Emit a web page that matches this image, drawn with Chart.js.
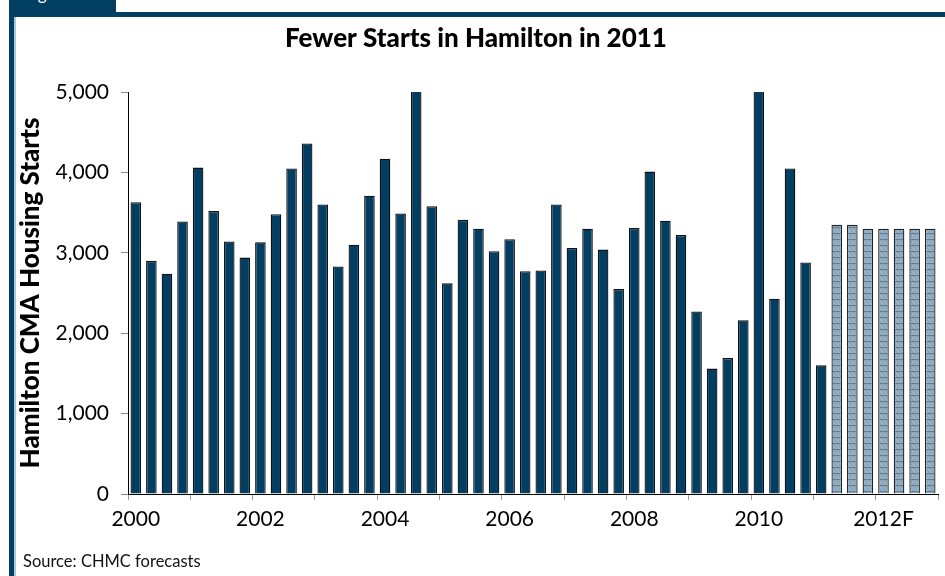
<!DOCTYPE html>
<html><head><meta charset="utf-8">
<script src="https://cdn.jsdelivr.net/npm/chart.js@4.4.0/dist/chart.umd.min.js"></script>
<style>
html,body{margin:0;padding:0;background:#fff;}
#wrap{position:relative;width:945px;height:576px;overflow:hidden;font-family:Lato,'DejaVu Sans',sans-serif;}
#tab{position:absolute;left:9px;top:0;width:107px;height:13px;background:#033e63;overflow:hidden;}
#tab span{position:absolute;left:15px;top:-17px;color:#fff;font-size:17px;}
#hbar{position:absolute;left:9px;top:12px;width:936px;height:5px;background:#033e63;}
#vbar{position:absolute;left:9px;top:12px;width:5px;height:564px;background:#033e63;}
#vline{position:absolute;left:14px;top:17px;width:2px;height:559px;background:#a9c8dc;}
#source{position:absolute;left:23px;top:551px;font-size:16.5px;color:#111;}
canvas{position:absolute;left:0;top:0;}
</style></head>
<body>
<div id="wrap">
<div id="tab"><span>Figure</span></div>
<div id="hbar"></div>
<div id="vbar"></div>
<div id="vline"></div>
<canvas id="c" width="945" height="576"></canvas>
<div id="source">Source: CHMC forecasts</div>
</div>
<script>
// ---- data ----
const years = ['2000','2001','2002','2003','2004','2005','2006','2007','2008','2009','2010','2011','2012'];
const quarters = ['Q1','Q2','Q3','Q4'];
const categories = years.flatMap(y => quarters.map(q => y + ' ' + q));
const yearLabels = ['2000','2002','2004','2006','2008','2010','2012F'];
const actual = [3630,2900,2740,3390, 4060,3520,3140,2940, 3130,3480,4050,4360,
                3600,2830,3100,3710, 4170,3490,5200,3580, 2620,3410,3300,3020,
                3170,2770,2780,3600, 3060,3300,3040,2550, 3310,4010,3400,3220,
                2270,1560,1690,2160, 5200,2430,4050,2880, 1600];
const forecast = [3350,3350,3300,3300,3300,3300,3300];
const yTicks = [0,1000,2000,3000,4000,5000];

const actualData = categories.map((c,i) => i < actual.length ? actual[i] : null);
const forecastData = categories.map((c,i) => i >= actual.length ? forecast[i - actual.length] : null);

function makePattern(){
  const c = document.createElement('canvas'); c.width = 4; c.height = 6;
  const g = c.getContext('2d');
  g.fillStyle = '#8ea9bd'; g.fillRect(0,0,4,6);
  g.fillStyle = '#a3bacb'; g.fillRect(0,1,1,1); g.fillRect(2,3,1,1); g.fillRect(1,2,1,1); g.fillRect(3,4,1,1);
  g.fillStyle = '#7f9cb2'; g.fillRect(1,0,1,1); g.fillRect(3,2,1,1);
  g.fillStyle = '#5d7f99'; g.fillRect(0,5,4,1);
  return g.createPattern(c,'repeat');
}

const FONT = 'Lato';
new Chart(document.getElementById('c'), {
  type: 'bar',
  data: {
    labels: categories,
    datasets: [
      {data: actualData, backgroundColor: '#023d62', borderColor: '#111', borderWidth: 1.3, grouped: false,
       barPercentage: 0.68, categoryPercentage: 1},
      {data: forecastData, backgroundColor: makePattern(), borderColor: '#222', borderWidth: 1.3, grouped: false,
       barPercentage: 0.68, categoryPercentage: 1}
    ]
  },
  options: {
    responsive: false, animation: false,
    layout: {padding: {left: 14, right: 7, top: 0, bottom: 42}},
    plugins: {
      legend: {display: false}, tooltip: {enabled: false},
      title: {display: true, text: 'Fewer Starts in Hamilton in 2011', color: '#000',
              font: {family: FONT, size: 26, weight: '900'}, padding: {top: 23, bottom: 37.8}}
    },
    scales: {
      x: {
        type: 'category', offset: true,
        grid: {offset: true, drawOnChartArea: false, tickLength: 6, lineWidth: 1,
               color: ctx => (ctx.tick === undefined || ctx.index % 4 === 0) ? '#999' : 'rgba(0,0,0,0)'},
        border: {color: '#000', width: 1},
        ticks: {autoSkip: false, maxRotation: 0, minRotation: 0, padding: 7, color: '#000',
                font: {family: FONT, size: 21},
                callback: (v,i) => i % 8 === 0 ? yearLabels[i/8] : ''},
        afterFit: s => { s.height = 40; }
      },
      y: {
        min: 0, max: 5000,
        afterBuildTicks: s => { s.ticks = yTicks.map(v => ({value: v})); },
        ticks: {padding: 12, color: '#000', font: {family: FONT, size: 21},
                callback: v => Number(v).toLocaleString('en-US')},
        grid: {drawOnChartArea: false, tickLength: 7, color: '#888'},
        border: {color: '#000', width: 1},
        title: {display: true, text: 'Hamilton CMA Housing Starts', color: '#000',
                font: {family: FONT, size: 26, weight: '900'}, padding: {top: 1, bottom: 0}},
        afterFit: s => { s.width = 114; }
      }
    }
  }
});
</script>
</body></html>
